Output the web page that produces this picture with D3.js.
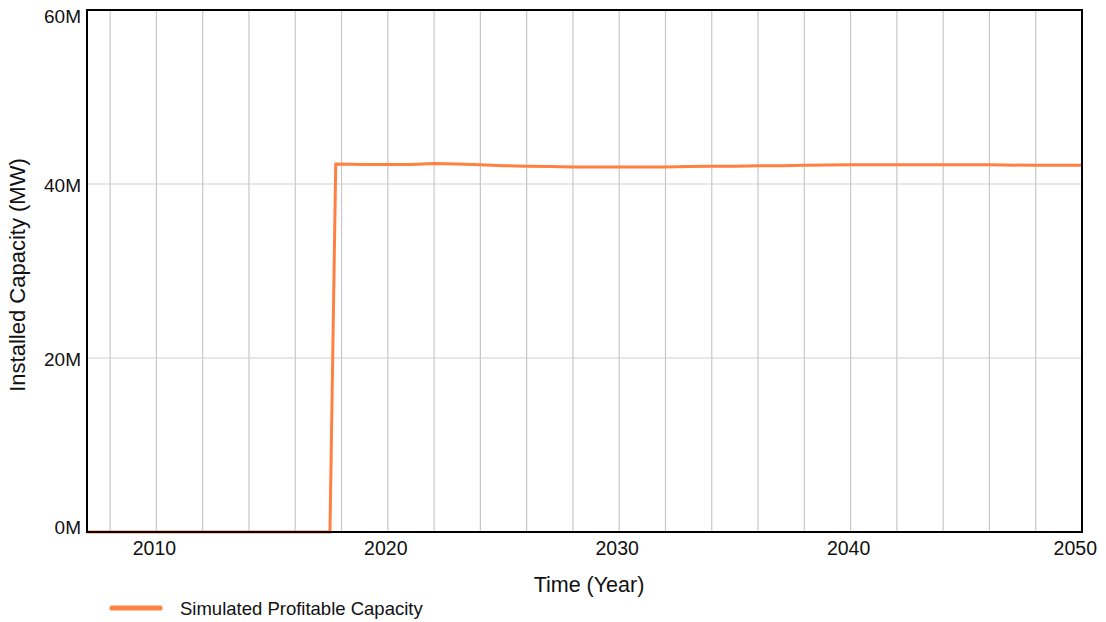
<!DOCTYPE html>
<html><head><meta charset="utf-8">
<script src="https://cdn.jsdelivr.net/npm/d3@7"></script>
<style>body{margin:0;background:#fff;} text{font-family:"Liberation Sans",Arial,sans-serif;fill:#111;}</style>
</head><body>
<svg id="c" width="1106" height="622"></svg>
<script>
const years = [2007, 2017.5, 2017.75, 2019, 2020, 2021, 2022, 2023, 2024, 2025, 2026, 2027, 2028, 2029, 2030, 2031, 2032, 2033, 2034, 2035, 2036, 2037, 2038, 2040, 2042, 2044, 2046, 2048, 2050];
const capacity = [0, 0, 42.3e6, 42.25e6, 42.25e6, 42.25e6, 42.35e6, 42.3e6, 42.2e6, 42.1e6, 42.05e6, 42.0e6, 41.95e6, 41.95e6, 41.95e6, 41.95e6, 41.95e6, 42.0e6, 42.05e6, 42.05e6, 42.1e6, 42.1e6, 42.15e6, 42.2e6, 42.2e6, 42.2e6, 42.2e6, 42.15e6, 42.15e6];
const xTicks = [2010, 2020, 2030, 2040, 2050];
const xGrid = [2008,2010,2012,2014,2016,2018,2020,2022,2024,2026,2028,2030,2032,2034,2036,2038,2040,2042,2044,2046,2048];
const yTicks = [0, 20e6, 40e6, 60e6];
const yTickLabels = ["0M", "20M", "40M", "60M"];
const seriesName = "Simulated Profitable Capacity";

const svg = d3.select("#c");
const L = 87, R = 1082, T = 10, B = 532;
const x = d3.scaleLinear().domain([2007, 2050]).range([L, R]);
const y = d3.scaleLinear().domain([0, 60e6]).range([B, T]);

svg.append("g").selectAll("line").data(xGrid).join("line")
  .attr("x1", d => x(d)).attr("x2", d => x(d)).attr("y1", T).attr("y2", B)
  .attr("stroke", "#c8c8c8").attr("stroke-width", 1.2);
svg.append("g").selectAll("line").data([20e6, 40e6]).join("line")
  .attr("x1", L).attr("x2", R).attr("y1", d => y(d)).attr("y2", d => y(d))
  .attr("stroke", "#d0d0d0").attr("stroke-width", 1.2);

const line = d3.line().x((d, i) => x(years[i])).y(d => y(d));
svg.append("path").datum(capacity).attr("d", line)
  .attr("fill", "none").attr("stroke", "#ff8040").attr("stroke-width", 3)
  .attr("stroke-linejoin", "miter");

svg.append("rect").attr("x", L).attr("y", T).attr("width", R - L).attr("height", B - T)
  .attr("fill", "none").attr("stroke", "#000").attr("stroke-width", 2);

svg.append("g").selectAll("text").data(xTicks).join("text")
  .attr("x", (d, i) => i === xTicks.length - 1 ? 1097 : x(d) - 2)
  .attr("y", 555).attr("text-anchor", (d, i) => i === xTicks.length - 1 ? "end" : "middle")
  .attr("font-size", 19.5).text(d => d);
const n = yTicks.length;
svg.append("g").selectAll("text").data(yTicks).join("text")
  .attr("x", 81).attr("y", (d, i) => y(d) + (i === 0 ? 2 : i === n - 1 ? 13 : 7.5)).attr("text-anchor", "end")
  .attr("font-size", 19).text((d, i) => yTickLabels[i]);

svg.append("text").attr("x", 589).attr("y", 592).attr("text-anchor", "middle")
  .attr("font-size", 21.5).text("Time (Year)");
svg.append("text").attr("transform", "translate(25,275) rotate(-90)").attr("text-anchor", "middle")
  .attr("font-size", 22).text("Installed Capacity (MW)");

svg.append("line").attr("x1", 112).attr("x2", 160).attr("y1", 608).attr("y2", 608)
  .attr("stroke", "#ff8040").attr("stroke-width", 5).attr("stroke-linecap", "round");
svg.append("text").attr("x", 180).attr("y", 615).attr("font-size", 18.5).text(seriesName);
</script>
</body></html>
